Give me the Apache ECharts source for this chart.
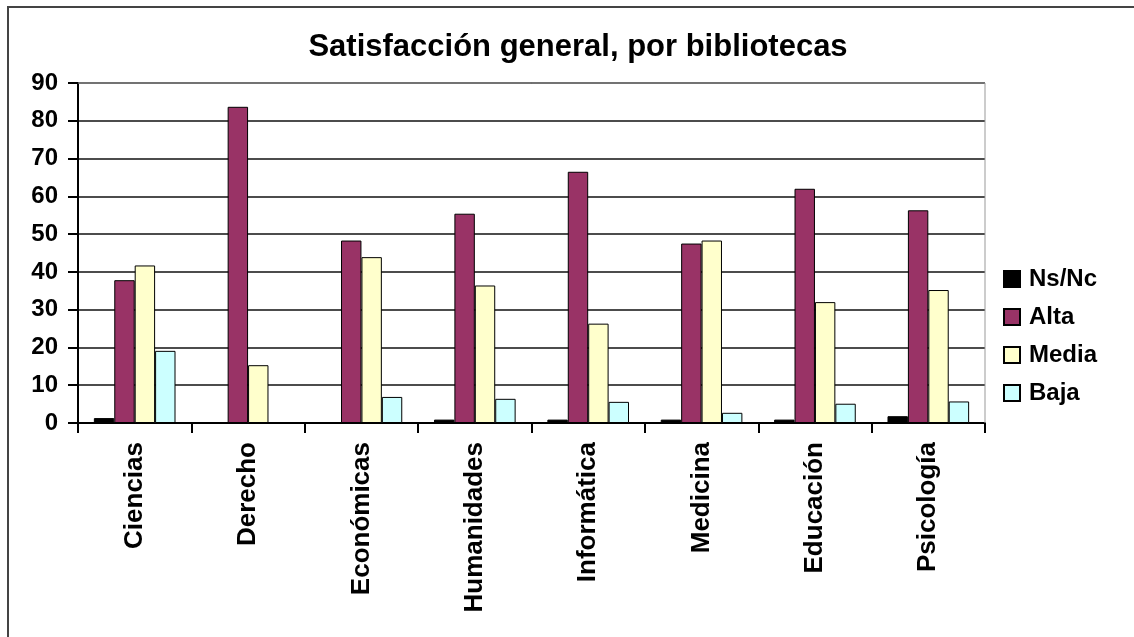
<!DOCTYPE html>
<html>
<head>
<meta charset="utf-8">
<script src="https://cdn.jsdelivr.net/npm/echarts@6/dist/echarts.min.js"></script>
<style>
  html, body { margin: 0; padding: 0; background: #fff; }
  .frame {
    position: absolute; left: 7px; top: 6px; width: 1200px; height: 700px;
    border-left: 2px solid #444; border-top: 2px solid #444;
  }
  .chart { position: absolute; left: 0; top: 0; width: 1134px; height: 637px; }
</style>
</head>
<body>
<div class="frame"></div>
<div id="chart" class="chart"></div>
<script>
const categories = ['Ciencias', 'Derecho', 'Económicas', 'Humanidades', 'Informática', 'Medicina', 'Educación', 'Psicología']
const nsnc = [1.3, 0, 0, 0.9, 0.9, 0.9, 0.9, 1.8]
const alta = [37.8, 83.7, 48.3, 55.4, 66.5, 47.5, 62.0, 56.3]
const media = [41.7, 15.3, 43.9, 36.4, 26.3, 48.3, 32.0, 35.2]
const baja = [19.1, 0, 6.9, 6.4, 5.6, 2.7, 5.1, 5.7]

const font = 'Liberation Sans, Arial, sans-serif'
const myChart = echarts.init(document.getElementById('chart'))

function barSeries (name, data, color) {
  return {
    name: name,
    type: 'bar',
    data: data,
    barGap: '0%',
    barCategoryGap: '28%',
    itemStyle: { color: color, borderColor: '#000', borderWidth: 1 }
  }
}

const option = {
  animation: false,
  title: {
    text: 'Satisfacción general, por bibliotecas',
    left: 573,
    textAlign: 'center',
    top: 27,
    textStyle: { fontFamily: font, fontSize: 31, fontWeight: 'bold', color: '#000' }
  },
  legend: {
    orient: 'vertical',
    left: 998,
    top: 262,
    itemWidth: 16,
    itemHeight: 16,
    itemGap: 14,
    icon: 'rect',
    textStyle: { fontFamily: font, fontSize: 24, fontWeight: 'bold', color: '#000', padding: [0, 0, 0, 4] },
    data: ['Ns/Nc', 'Alta', 'Media', 'Baja']
  },
  grid: { left: 78, right: 149, top: 83, bottom: 214 },
  xAxis: {
    type: 'category',
    data: categories,
    axisLine: { lineStyle: { color: '#000', width: 2 } },
    axisTick: { show: true, length: 10, lineStyle: { color: '#000', width: 2 } },
    axisLabel: {
      interval: 0,
      rotate: 90,
      margin: 19,
      color: '#000',
      fontFamily: font,
      fontSize: 26,
      fontWeight: 'bold'
    }
  },
  yAxis: {
    type: 'value',
    min: 0,
    max: 90,
    interval: 10,
    axisLine: { show: true, lineStyle: { color: '#000', width: 2 } },
    axisTick: { show: true, length: 10, lineStyle: { color: '#000', width: 2 } },
    axisLabel: { color: '#000', fontFamily: font, fontSize: 24, fontWeight: 'bold', margin: 20 },
    splitLine: { lineStyle: { color: '#111', width: 1.5 } }
  },
  graphic: [
    {
      type: 'polyline',
      shape: { points: [[78, 83], [985, 83], [985, 423]] },
      style: { stroke: '#999', lineWidth: 1, fill: null },
      z: 1
    }
  ],
  series: [
    barSeries('Ns/Nc', nsnc, '#000000'),
    barSeries('Alta', alta, '#993366'),
    barSeries('Media', media, '#FFFFCC'),
    barSeries('Baja', baja, '#CCFFFF')
  ]
}
myChart.setOption(option)
</script>
</body>
</html>
